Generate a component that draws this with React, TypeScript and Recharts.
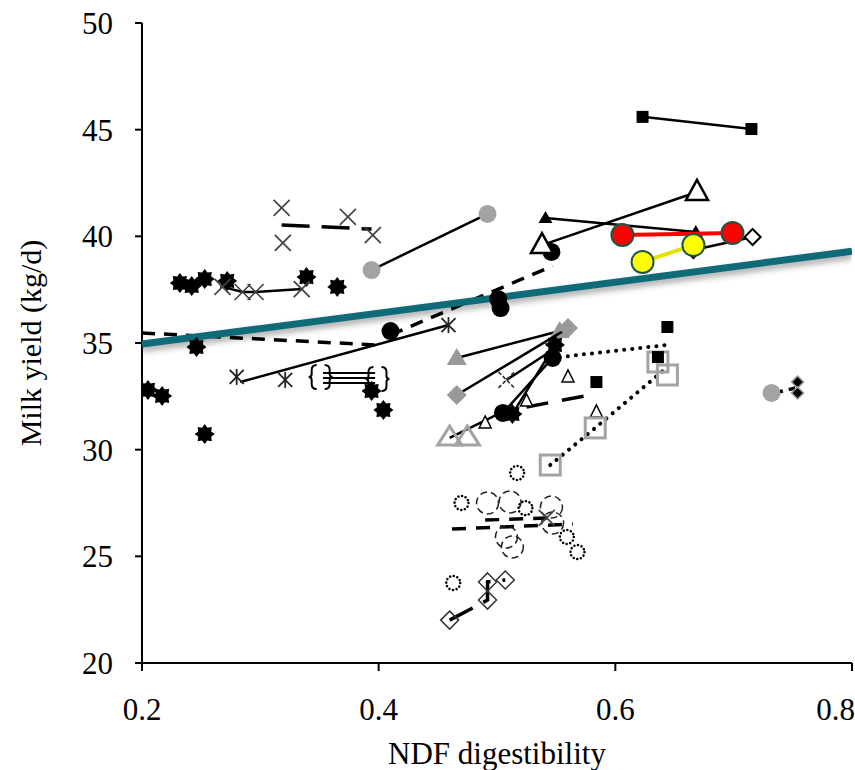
import React from "react";
import { ScatterChart, Scatter, XAxis, YAxis } from "recharts";

const FONT = '"Liberation Serif", "Times New Roman", serif';
const GREY = "#a3a3a3";
const TEAL = "#0f6b78";

type Pt = { x: number; y: number };

// ---- data (NDF digestibility, milk yield kg/d) ----
const trendLine: Pt[] = [{ x: 0.2, y: 34.95 }, { x: 0.8, y: 39.3 }];

const blackSquaresTop: Pt[] = [{ x: 0.623, y: 45.6 }, { x: 0.715, y: 45.03 }];
const openTrianglesBig: Pt[] = [{ x: 0.538, y: 39.59 }, { x: 0.669, y: 42.08 }];
const smallFilledTriangles: Pt[] = [{ x: 0.541, y: 40.86 }, { x: 0.668, y: 40.2 }];
const redPoints: Pt[] = [{ x: 0.606, y: 40.06 }, { x: 0.699, y: 40.16 }];
const yellowPoints: Pt[] = [{ x: 0.623, y: 38.8 }, { x: 0.666, y: 39.59 }];
const openDiamonds: Pt[] = [{ x: 0.666, y: 39.36 }, { x: 0.716, y: 39.97 }];
const greyCircles: Pt[] = [{ x: 0.394, y: 38.42 }, { x: 0.492, y: 41.05 }];

const blackCircles: Pt[] = [
  { x: 0.41, y: 35.56 },
  { x: 0.501, y: 37.06 },
  { x: 0.503, y: 36.64 },
  { x: 0.546, y: 39.27 },
];
const blackCircleTrend: Pt[] = [{ x: 0.41, y: 35.38 }, { x: 0.547, y: 38.61 }];

const longDashTrend: Pt[] = [{ x: 0.2, y: 35.47 }, { x: 0.397, y: 34.91 }];

const asterisks: Pt[] = [
  { x: 0.28, y: 33.41 },
  { x: 0.321, y: 33.27 },
  { x: 0.459, y: 35.84 },
];
const asteriskTrend: Pt[] = [{ x: 0.283, y: 33.17 }, { x: 0.459, y: 35.84 }];

const braces: Pt[] = [{ x: 0.351, y: 33.41 }, { x: 0.399, y: 33.31 }];
const braceLineA: Pt[] = [{ x: 0.353, y: 33.59 }, { x: 0.397, y: 33.59 }];
const braceLineB: Pt[] = [{ x: 0.353, y: 33.36 }, { x: 0.397, y: 33.36 }];
const braceLineC: Pt[] = [{ x: 0.353, y: 33.12 }, { x: 0.397, y: 33.12 }];

const crossesUpper: Pt[] = [
  { x: 0.318, y: 41.33 },
  { x: 0.319, y: 39.69 },
  { x: 0.374, y: 40.91 },
  { x: 0.395, y: 40.06 },
];
const crossesUpperTrend: Pt[] = [{ x: 0.318, y: 40.53 }, { x: 0.394, y: 40.34 }];

const crossesLower: Pt[] = [
  { x: 0.268, y: 37.63 },
  { x: 0.285, y: 37.39 },
  { x: 0.296, y: 37.39 },
  { x: 0.335, y: 37.53 },
];

const stars: Pt[] = [
  { x: 0.232, y: 37.81 },
  { x: 0.242, y: 37.67 },
  { x: 0.253, y: 38.0 },
  { x: 0.272, y: 37.91 },
  { x: 0.339, y: 38.09 },
  { x: 0.365, y: 37.63 },
  { x: 0.246, y: 34.81 },
  { x: 0.205, y: 32.8 },
  { x: 0.217, y: 32.52 },
  { x: 0.253, y: 30.73 },
  { x: 0.394, y: 32.75 },
  { x: 0.404, y: 31.86 },
];

const greyTriangles: Pt[] = [{ x: 0.466, y: 34.3 }, { x: 0.553, y: 35.56 }];
const greyDiamonds: Pt[] = [{ x: 0.466, y: 32.56 }, { x: 0.56, y: 35.7 }];
const blackBlobs: Pt[] = [{ x: 0.505, y: 31.72 }, { x: 0.547, y: 34.3 }];
const blackStarPair: Pt[] = [{ x: 0.513, y: 31.67 }, { x: 0.549, y: 34.91 }];
const dashedCrossPair: Pt[] = [{ x: 0.508, y: 33.27 }, { x: 0.547, y: 34.67 }];

const greyOpenTriangles: Pt[] = [{ x: 0.46, y: 30.59 }, { x: 0.475, y: 30.59 }];
const openTriangleTrend: Pt[] = [{ x: 0.46, y: 30.55 }, { x: 0.503, y: 31.72 }];
const smallOpenTriangles: Pt[] = [
  { x: 0.49, y: 31.25 },
  { x: 0.525, y: 32.28 },
  { x: 0.56, y: 33.41 },
  { x: 0.584, y: 31.77 },
];
const thickDashTrend: Pt[] = [{ x: 0.525, y: 32.0 }, { x: 0.583, y: 32.61 }];
const blackSquaresMid: Pt[] = [
  { x: 0.584, y: 33.17 },
  { x: 0.644, y: 35.75 },
  { x: 0.636, y: 34.34 },
];
const upperDotTrend: Pt[] = [{ x: 0.553, y: 34.34 }, { x: 0.644, y: 34.91 }];

const greySquares: Pt[] = [
  { x: 0.545, y: 29.28 },
  { x: 0.583, y: 31.02 },
  { x: 0.636, y: 34.11 },
  { x: 0.644, y: 33.5 },
];
const lowerDotTrend: Pt[] = [
  { x: 0.545, y: 29.28 },
  { x: 0.583, y: 31.02 },
  { x: 0.644, y: 33.87 },
];

const dottedCircles: Pt[] = [
  { x: 0.517, y: 28.91 },
  { x: 0.47, y: 27.5 },
  { x: 0.524, y: 27.26 },
  { x: 0.559, y: 25.91 },
  { x: 0.568, y: 25.2 },
  { x: 0.463, y: 23.75 },
];
const dashedCircles: Pt[] = [
  { x: 0.492, y: 27.5 },
  { x: 0.511, y: 27.55 },
  { x: 0.546, y: 27.31 },
  { x: 0.508, y: 25.91 },
  { x: 0.513, y: 25.44 },
  { x: 0.547, y: 26.56 },
];
const circleTrendLow: Pt[] = [{ x: 0.462, y: 26.28 }, { x: 0.564, y: 26.51 }];
const circleTrendHigh: Pt[] = [{ x: 0.49, y: 26.7 }, { x: 0.547, y: 26.8 }];
const smallCross: Pt[] = [{ x: 0.542, y: 26.8 }];

const thinDiamonds: Pt[] = [
  { x: 0.46, y: 22.01 },
  { x: 0.492, y: 22.95 },
  { x: 0.492, y: 23.8 },
  { x: 0.507, y: 23.89 },
];

const rightGreyDot: Pt[] = [{ x: 0.732, y: 32.66 }];
const rightDiamonds: Pt[] = [{ x: 0.754, y: 33.17 }, { x: 0.754, y: 32.66 }];
const rightTrend: Pt[] = [{ x: 0.735, y: 32.66 }, { x: 0.752, y: 32.89 }];

const xTicks = [0.2, 0.4, 0.6, 0.8];
const yTicks = [20, 25, 30, 35, 40, 45, 50];

// ---- marker shapes ----
const mk = (draw: (x: number, y: number) => React.ReactElement) => (props: any) => {
  const { cx, cy } = props;
  if (cx == null || cy == null) return <g />;
  return draw(cx, cy);
};

const noMark = () => <g />;

const poly = (pts: number[][]) => pts.map((p) => p.join(",")).join(" ");

function starPoints(x: number, y: number, ro: number, ri: number, n: number) {
  const out: number[][] = [];
  for (let i = 0; i < n * 2; i++) {
    const r = i % 2 === 0 ? ro : ri;
    const a = (Math.PI * i) / n - Math.PI / 2;
    out.push([x + r * Math.cos(a), y + r * Math.sin(a)]);
  }
  return poly(out);
}

const blackSquare = mk((x, y) => <rect x={x - 6} y={y - 6} width={12} height={12} fill="#000" />);
const openTriBig = mk((x, y) => (
  <polygon points={poly([[x, y - 12], [x - 11, y + 8], [x + 11, y + 8]])} fill="#fff" stroke="#000" strokeWidth={2.5} />
));
const filledTriSmall = mk((x, y) => (
  <polygon points={poly([[x, y - 7], [x - 7, y + 5], [x + 7, y + 5]])} fill="#000" />
));
const redDot = mk((x, y) => <circle cx={x} cy={y} r={11} fill="#ff0000" stroke="#1e5546" strokeWidth={2} />);
const yellowDot = mk((x, y) => <circle cx={x} cy={y} r={11} fill="#ffff00" stroke="#1e5546" strokeWidth={2} />);
const openDiamond = mk((x, y) => (
  <polygon points={poly([[x, y - 8], [x + 8, y], [x, y + 8], [x - 8, y]])} fill="#fff" stroke="#000" strokeWidth={2} />
));
const greyDot = mk((x, y) => <circle cx={x} cy={y} r={9} fill={GREY} />);
const blackDot = mk((x, y) => <circle cx={x} cy={y} r={9} fill="#000" />);
const star = mk((x, y) => <polygon points={starPoints(x, y, 10, 7, 8)} fill="#000" />);
const asterisk = mk((x, y) => (
  <g stroke="#222" strokeWidth={1.8}>
    <line x1={x - 7} y1={y - 7} x2={x + 7} y2={y + 7} />
    <line x1={x - 7} y1={y + 7} x2={x + 7} y2={y - 7} />
    <line x1={x} y1={y - 8} x2={x} y2={y + 8} />
  </g>
));
const brace = mk((x, y) => (
  <g stroke="#000" strokeWidth={2} fill="none">
    <path d={`M ${x - 4} ${y - 12} q -5 0 -5 5 v 4 q 0 3 -3 3 q 3 0 3 3 v 4 q 0 5 5 5`} />
    <path d={`M ${x + 4} ${y - 12} q 5 0 5 5 v 4 q 0 3 3 3 q -3 0 -3 3 v 4 q 0 5 -5 5`} />
  </g>
));
const cross = mk((x, y) => (
  <g stroke="#444" strokeWidth={1.7}>
    <line x1={x - 8} y1={y - 8} x2={x + 8} y2={y + 8} />
    <line x1={x - 8} y1={y + 8} x2={x + 8} y2={y - 8} />
  </g>
));
const dashedCross = mk((x, y) => (
  <g stroke="#333" strokeWidth={1.6} strokeDasharray="4 2">
    <line x1={x - 8} y1={y - 8} x2={x + 8} y2={y + 8} />
    <line x1={x - 8} y1={y + 8} x2={x + 8} y2={y - 8} />
  </g>
));
const greyTri = mk((x, y) => (
  <polygon points={poly([[x, y - 10], [x - 10, y + 7], [x + 10, y + 7]])} fill="#999" />
));
const greyDiamond = mk((x, y) => (
  <polygon points={poly([[x, y - 10], [x + 10, y], [x, y + 10], [x - 10, y]])} fill="#999" />
));
const greyOpenTri = mk((x, y) => (
  <polygon points={poly([[x, y - 11], [x - 12, y + 8], [x + 12, y + 8]])} fill="none" stroke={GREY} strokeWidth={3} />
));
const openTriSmall = mk((x, y) => (
  <polygon points={poly([[x, y - 7], [x - 6, y + 5], [x + 6, y + 5]])} fill="#fff" stroke="#000" strokeWidth={1.5} />
));
const greyOpenSquare = mk((x, y) => (
  <rect x={x - 10} y={y - 10} width={20} height={20} fill="none" stroke={GREY} strokeWidth={3} />
));
const dottedCircle = mk((x, y) => (
  <circle cx={x} cy={y} r={7} fill="#fff" stroke="#000" strokeWidth={2.5} strokeDasharray="0.1 3.6" strokeLinecap="round" />
));
const dashedCircle = mk((x, y) => (
  <circle cx={x} cy={y} r={11} fill="none" stroke="#222" strokeWidth={1.5} strokeDasharray="7 4" />
));
const thinDiamond = mk((x, y) => (
  <polygon points={poly([[x, y - 9], [x + 9, y], [x, y + 9], [x - 9, y]])} fill="none" stroke="#333" strokeWidth={1.5} />
));
const smallDiamond = mk((x, y) => (
  <polygon points={poly([[x, y - 6], [x + 6, y], [x, y + 6], [x - 6, y]])} fill="#000" stroke="#999" strokeWidth={1.5} />
));

const solid = { stroke: "#000", strokeWidth: 2.5 };
const dashed = { stroke: "#000", strokeWidth: 3.5, strokeDasharray: "13 9" };
const dotted = { stroke: "#000", strokeWidth: 4, strokeDasharray: "0.1 8", strokeLinecap: "round" as const };

export default function App() {
  return (
    <div style={{ position: "absolute", left: 0, top: 0, width: 855, height: 770, background: "#fff" }}>
      <ScatterChart width={855} height={770} margin={{ top: 23, right: 3, bottom: 0, left: 0 }}>
        <XAxis
          type="number"
          dataKey="x"
          domain={[0.2, 0.8]}
          ticks={xTicks}
          tickFormatter={(v) => Number(v).toFixed(1)}
          height={107}
          tickSize={8}
          tickMargin={27}
          axisLine={{ stroke: "#000", strokeWidth: 2 }}
          tickLine={{ stroke: "#000", strokeWidth: 2 }}
          tick={{ fill: "#000", fontSize: 31, fontFamily: FONT }}
          allowDataOverflow
          label={{
            value: "NDF digestibility",
            position: "insideBottom",
            offset: 6,
            style: { fill: "#000", fontSize: 31, fontFamily: FONT },
          }}
        />
        <YAxis
          type="number"
          dataKey="y"
          domain={[20, 50]}
          ticks={yTicks}
          width={142}
          tickSize={7}
          tickMargin={22}
          axisLine={{ stroke: "#000", strokeWidth: 2 }}
          tickLine={{ stroke: "#000", strokeWidth: 2 }}
          tick={{ fill: "#000", fontSize: 31, fontFamily: FONT }}
          allowDataOverflow
          label={{
            value: "Milk yield (kg/d)",
            angle: -90,
            position: "insideLeft",
            offset: 30,
            style: { fill: "#000", fontSize: 30, fontFamily: FONT, textAnchor: "middle" },
          }}
        />

        {/* trend lines without markers */}
        <Scatter data={longDashTrend} shape={noMark} line={dashed} isAnimationActive={false} />
        <Scatter data={blackCircleTrend} shape={noMark} line={dashed} isAnimationActive={false} />
        <Scatter data={asteriskTrend} shape={noMark} line={solid} isAnimationActive={false} />
        <Scatter data={crossesUpperTrend} shape={noMark} line={{ ...dashed, strokeDasharray: "28 12" }} isAnimationActive={false} />
        <Scatter data={braceLineA} shape={noMark} line={{ stroke: "#000", strokeWidth: 2 }} isAnimationActive={false} />
        <Scatter data={braceLineB} shape={noMark} line={{ stroke: "#000", strokeWidth: 2 }} isAnimationActive={false} />
        <Scatter data={braceLineC} shape={noMark} line={{ stroke: "#000", strokeWidth: 2 }} isAnimationActive={false} />
        <Scatter data={openTriangleTrend} shape={noMark} line={solid} isAnimationActive={false} />
        <Scatter data={thickDashTrend} shape={noMark} line={{ ...dashed, strokeDasharray: "22 14" }} isAnimationActive={false} />
        <Scatter data={upperDotTrend} shape={noMark} line={dotted} isAnimationActive={false} />
        <Scatter data={lowerDotTrend} shape={noMark} line={dotted} isAnimationActive={false} />
        <Scatter data={circleTrendLow} shape={noMark} line={{ ...dashed, strokeDasharray: "14 10" }} isAnimationActive={false} />
        <Scatter data={circleTrendHigh} shape={noMark} line={{ ...dashed, strokeDasharray: "14 10" }} isAnimationActive={false} />
        <Scatter data={rightTrend} shape={noMark} line={{ ...dashed, strokeDasharray: "8 6" }} isAnimationActive={false} />

        {/* overall regression */}
        <Scatter
          data={trendLine}
          shape={noMark}
          line={{ stroke: TEAL, strokeWidth: 7, style: { filter: "drop-shadow(0px 4px 3px rgba(0,0,0,0.35))" } }}
          isAnimationActive={false}
        />

        {/* study series */}
        <Scatter data={stars} shape={star} isAnimationActive={false} />
        <Scatter data={crossesLower} shape={cross} line={solid} isAnimationActive={false} />
        <Scatter data={crossesUpper} shape={cross} isAnimationActive={false} />
        <Scatter data={asterisks} shape={asterisk} isAnimationActive={false} />
        <Scatter data={braces} shape={brace} isAnimationActive={false} />
        <Scatter data={greyCircles} shape={greyDot} line={solid} isAnimationActive={false} />
        <Scatter data={blackCircles} shape={blackDot} isAnimationActive={false} />
        <Scatter data={greyTriangles} shape={greyTri} line={solid} isAnimationActive={false} />
        <Scatter data={greyDiamonds} shape={greyDiamond} line={solid} isAnimationActive={false} />
        <Scatter data={dashedCrossPair} shape={dashedCross} line={solid} isAnimationActive={false} />
        <Scatter data={blackBlobs} shape={blackDot} line={solid} isAnimationActive={false} />
        <Scatter data={blackStarPair} shape={star} line={solid} isAnimationActive={false} />
        <Scatter data={greyOpenTriangles} shape={greyOpenTri} isAnimationActive={false} />
        <Scatter data={smallOpenTriangles} shape={openTriSmall} isAnimationActive={false} />
        <Scatter data={greySquares} shape={greyOpenSquare} isAnimationActive={false} />
        <Scatter data={blackSquaresMid} shape={blackSquare} isAnimationActive={false} />
        <Scatter data={dottedCircles} shape={dottedCircle} isAnimationActive={false} />
        <Scatter data={dashedCircles} shape={dashedCircle} isAnimationActive={false} />
        <Scatter data={smallCross} shape={cross} isAnimationActive={false} />
        <Scatter data={thinDiamonds} shape={thinDiamond} line={{ ...dashed, strokeDasharray: "26 12" }} isAnimationActive={false} />
        <Scatter data={rightGreyDot} shape={greyDot} isAnimationActive={false} />
        <Scatter data={rightDiamonds} shape={smallDiamond} isAnimationActive={false} />
        <Scatter data={blackSquaresTop} shape={blackSquare} line={solid} isAnimationActive={false} />
        <Scatter data={openTrianglesBig} shape={openTriBig} line={solid} isAnimationActive={false} />
        <Scatter data={smallFilledTriangles} shape={filledTriSmall} line={solid} isAnimationActive={false} />
        <Scatter data={openDiamonds} shape={openDiamond} line={solid} isAnimationActive={false} />
        <Scatter data={redPoints} shape={redDot} line={{ stroke: "#ff0000", strokeWidth: 4 }} isAnimationActive={false} />
        <Scatter data={yellowPoints} shape={yellowDot} line={{ stroke: "#e8e000", strokeWidth: 4 }} isAnimationActive={false} />
      </ScatterChart>
    </div>
  );
}
